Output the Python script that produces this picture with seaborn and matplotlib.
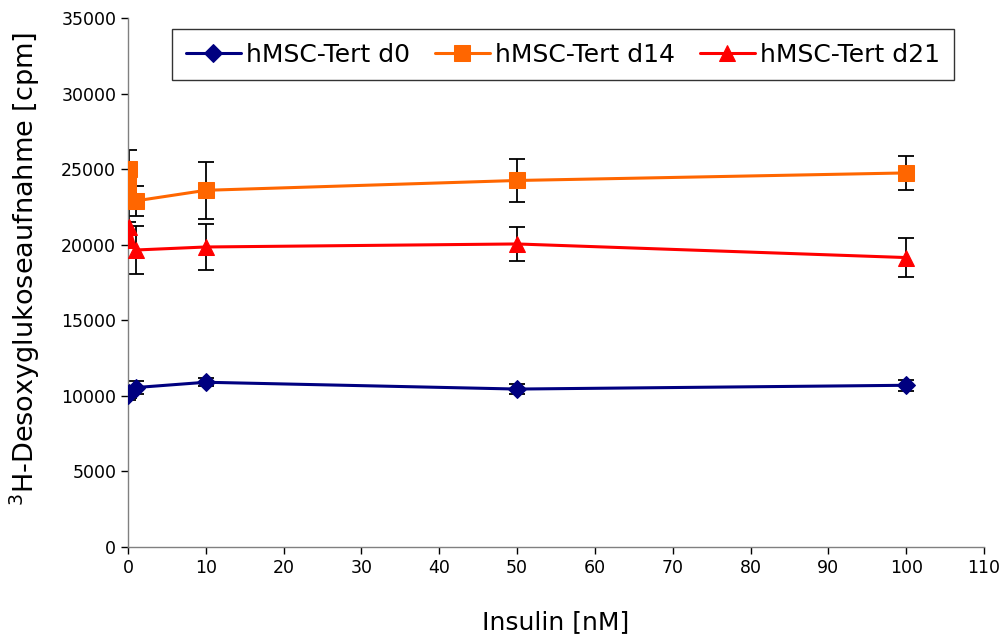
import numpy as np
import pandas as pd
import seaborn as sns
import matplotlib.pyplot as plt

# insulin concentrations [nM]
insulin = [0, 0.1, 1, 10, 50, 100]

d0 = [10050, 10200, 10550, 10900, 10450, 10700]
d0_err = [350, 350, 400, 250, 350, 350]

d14 = [24000, 25000, 22900, 23600, 24250, 24750]
d14_err = [1200, 1250, 1000, 1900, 1400, 1150]

d21 = [20300, 21200, 19650, 19850, 20050, 19150]
d21_err = [1200, 1200, 1600, 1500, 1150, 1300]

series = ["hMSC-Tert d0", "hMSC-Tert d14", "hMSC-Tert d21"]
colors = ["#000080", "#FF6600", "#FF0000"]
markers = ["D", "s", "^"]
msizes = [9, 12, 12]

df = pd.DataFrame({
    "Insulin": insulin * 3,
    "cpm": d0 + d14 + d21,
    "err": d0_err + d14_err + d21_err,
    "Serie": [s for s in series for _ in insulin],
})

sns.set_style("white")
plt.rcParams['font.family'] = ['DejaVu Sans']
plt.rcParams['text.color'] = 'black'
plt.rcParams['axes.labelcolor'] = 'black'
plt.rcParams['xtick.color'] = 'black'
plt.rcParams['ytick.color'] = 'black'

fig = plt.figure(figsize=(10.04, 6.41), dpi=100)
ax = fig.add_axes([128 / 1004, 1 - 547 / 641, (984 - 128) / 1004, (547 - 18) / 641])

# error bars first (black, with caps)
for s in series:
    sub = df[df["Serie"] == s]
    ax.errorbar(sub["Insulin"], sub["cpm"], yerr=sub["err"], fmt="none",
                ecolor="black", elinewidth=1.3, capsize=6, capthick=1.3, zorder=2)

for s, c, m, ms in zip(series, colors, markers, msizes):
    sub = df[df["Serie"] == s]
    sns.lineplot(data=sub, x="Insulin", y="cpm", ax=ax, color=c, marker=m,
                 markersize=ms, markeredgecolor=c, linewidth=2.2, label=s,
                 zorder=3)

ax.set_xlim(0, 110)
ax.set_ylim(0, 35000)
ax.set_xticks(np.arange(0, 111, 10))
ax.set_yticks(np.arange(0, 35001, 5000))
ax.tick_params(axis="both", direction="out", length=5, width=1, labelsize=12.5,
               bottom=True, left=True, color="black")
for side in ["top", "right"]:
    ax.spines[side].set_visible(False)
for side in ["left", "bottom"]:
    ax.spines[side].set_color("#808080")
    ax.spines[side].set_linewidth(1)

ax.set_xlabel("Insulin [nM]", fontsize=18)
ax.set_ylabel("$^3$H-Desoxyglukoseaufnahme [cpm]", fontsize=19.5)
ax.xaxis.set_label_coords(0.5, -0.12)
ax.yaxis.set_label_coords(-0.1, 0.525)

leg = ax.legend(loc="upper center", bbox_to_anchor=(0.508, 1.003), ncol=3,
                frameon=True, prop={'size': 18},
                fancybox=False, edgecolor="black",
                handlelength=2.2, columnspacing=1.0, borderpad=0.55,
                handletextpad=0.2)
leg.get_frame().set_linewidth(1)

fig.savefig("out.png", dpi=100)
